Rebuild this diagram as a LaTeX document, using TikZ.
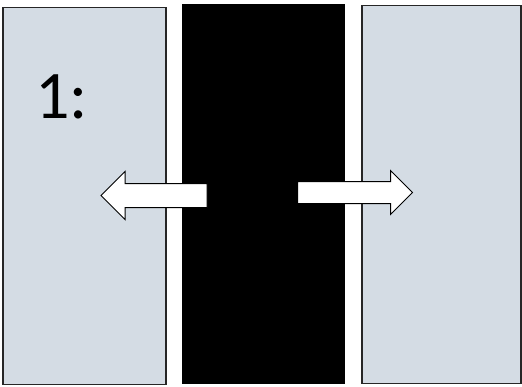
\documentclass[tikz,border=0pt]{standalone}
\usepackage{fontspec}
\setmainfont{Carlito}
\usepackage{tikz}
\usetikzlibrary{shapes.arrows, positioning}

\definecolor{panelgray}{RGB}{212,220,228}

\begin{document}
\begin{tikzpicture}[
    x=1pt, y=-1pt,
    panel/.style={rectangle, draw=black!85, line width=1.5pt, fill=panelgray, inner sep=0pt},
    core/.style={rectangle, fill=black, inner sep=0pt},
    flow/.style={single arrow, draw=black, line width=1pt, fill=white, inner xsep=0pt,
        single arrow tip angle=90}
]
\useasboundingbox (0,0) rectangle (522,386);
\node[panel, minimum width=163pt, minimum height=377pt] (lpanel) at (84.5,196) {};
\node[core, minimum width=163pt, minimum height=380pt] (mid) at (263.5,194) {};
\node[panel, minimum width=159pt, minimum height=378pt] (rpanel) at (441.5,194.5) {};
\node[anchor=base west, inner sep=0pt, font=\fontsize{68}{70}\selectfont] (lbl) at (35,118) {1:};
\node[flow, inner ysep=11.5pt, single arrow head extend=12pt, minimum height=106pt,
    shape border rotate=180] (larr) at (160,195.5) {};
\node[flow, inner ysep=10.5pt, single arrow head extend=11pt, minimum height=115pt] (rarr) at (349.5,192.5) {};
\end{tikzpicture}
\end{document}
